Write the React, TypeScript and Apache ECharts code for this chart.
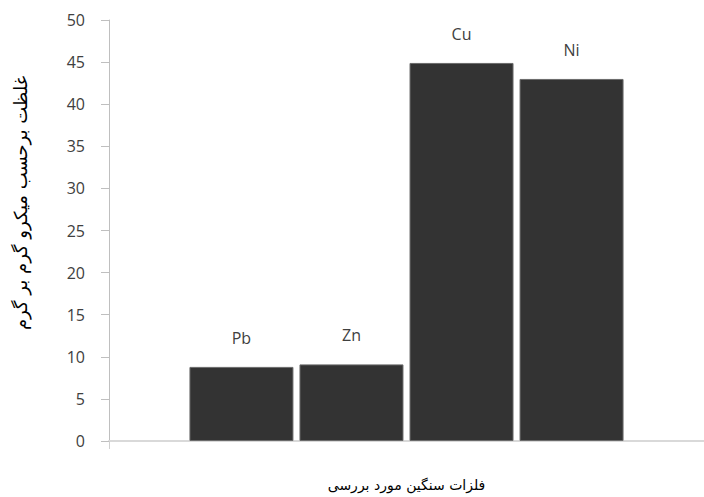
import React, { useEffect, useRef } from "react";
import * as echarts from "echarts";

const metals = ["Pb", "Zn", "Cu", "Ni"];
const concentrations = [8.8, 9.1, 44.9, 43.0];
const yTitle = "غلظت برحسب میکرو گرم بر گرم";
const xTitle = "فلزات سنگین مورد بررسی";

export default function App() {
  const ref = useRef<HTMLDivElement>(null);
  useEffect(() => {
    if (!ref.current) return;
    const chart = echarts.init(ref.current, null, { renderer: "svg" });
    chart.setOption({
      animation: false,
      backgroundColor: "#ffffff",
      grid: { left: 109, top: 20, bottom: 54, width: 602 },
      graphic: [
        {
          type: "text",
          x: 20,
          y: 203,
          rotation: Math.PI / 2,
          style: {
            text: yTitle,
            fontFamily: "DejaVu Sans",
            fontSize: 18,
            fill: "#000000",
            align: "center",
            verticalAlign: "middle",
          },
        },
      ],
      xAxis: {
        type: "category",
        data: [""],
        name: xTitle,
        nameLocation: "middle",
        nameGap: 37,
        nameTextStyle: { fontFamily: "DejaVu Sans", fontSize: 14, color: "#000000" },
        axisLine: { lineStyle: { color: "#d9d9d9", width: 2 } },
        axisTick: { show: true, length: 8, lineStyle: { color: "#d0d0d0" } },
        axisLabel: { show: false },
      },
      yAxis: {
        type: "value",
        min: 0,
        max: 50,
        interval: 5,
        axisLine: { show: true, lineStyle: { color: "#bfbfbf" } },
        axisTick: { show: true, length: 8, lineStyle: { color: "#bfbfbf" } },
        splitLine: { show: false },
        axisLabel: { margin: 24, fontFamily: "Open Sans", fontSize: 16, color: "#404040" },
      },
      series: metals.map((m, i) => ({
        type: "bar",
        name: m,
        data: [concentrations[i]],
        barWidth: 104,
        barGap: "5.8%",
        itemStyle: { color: "#333333", borderColor: "#6b6b6b", borderWidth: 1 },
        label: {
          show: true,
          position: "top",
          distance: 21,
          formatter: m,
          fontFamily: "Open Sans",
          fontSize: 16,
          color: "#404040",
        },
      })),
    });
    return () => chart.dispose();
  }, []);
  return (
    <div
      ref={ref}
      style={{ position: "fixed", left: 0, top: 0, width: 704, height: 497 }}
    />
  );
}
